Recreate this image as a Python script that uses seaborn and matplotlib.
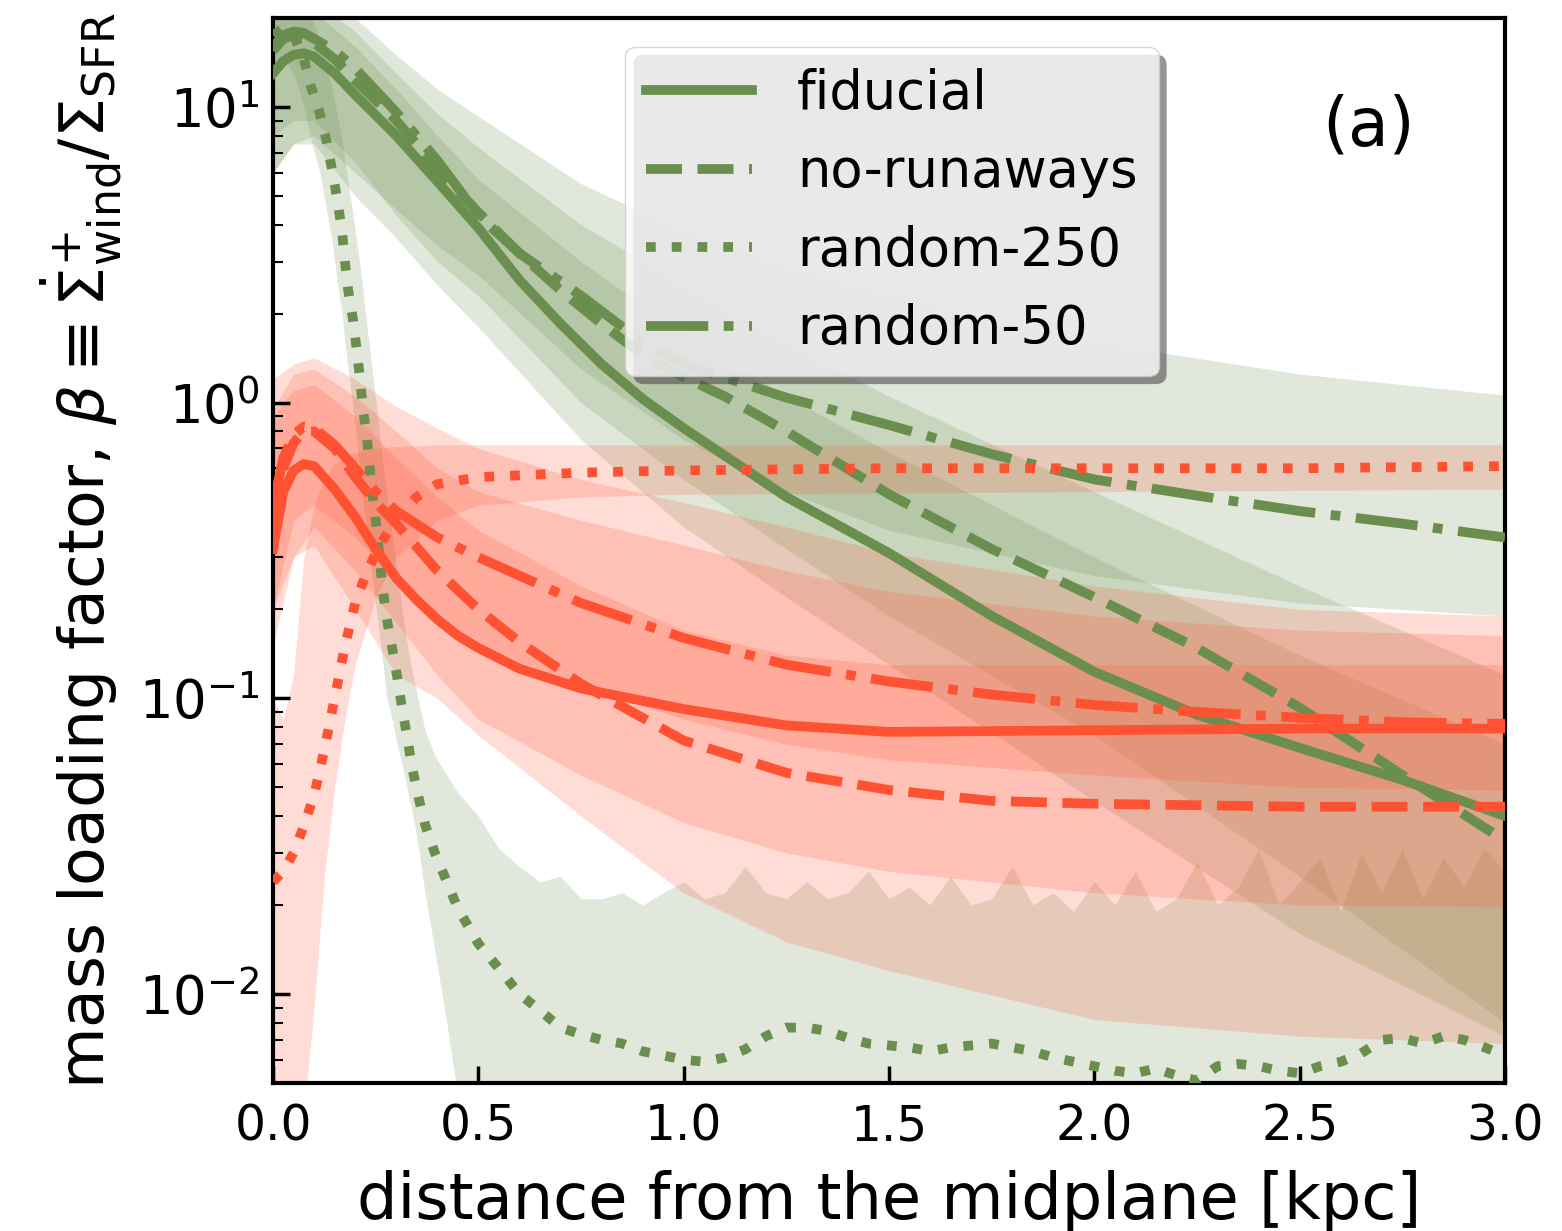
import numpy as np
import matplotlib
matplotlib.use("Agg")
import matplotlib.pyplot as plt
from matplotlib.patches import FancyBboxPatch
import seaborn as sns

GREEN = "#6a8e4e"
RED = "#ff5233"

# ---------------- green (upper group) lines ----------------
g_fid_x = [0, 0.025, 0.05, 0.075, 0.1, 0.15, 0.2, 0.3, 0.4, 0.5, 0.6, 0.7, 0.8, 0.9, 1.0,
           1.25, 1.5, 1.75, 2.0, 2.25, 2.5, 2.75, 3.0]
g_fid_y = [13.0, 14.3, 15.0, 15.2, 14.8, 13.0, 11.0, 8.0, 5.6, 3.9, 2.6, 1.85, 1.35, 1.03, 0.82,
           0.48, 0.31, 0.19, 0.123, 0.088, 0.068, 0.053, 0.040]

g_norun_x = [0, 0.025, 0.05, 0.075, 0.1, 0.15, 0.2, 0.3, 0.4, 0.5, 0.6, 0.7, 0.8, 0.9, 1.0, 1.1,
             1.25, 1.5, 1.75, 2.0, 2.25, 2.5, 2.75, 3.0]
g_norun_y = [15.5, 17.0, 17.5, 17.2, 16.5, 14.5, 12.3, 9.0, 6.2, 4.4, 3.2, 2.4, 1.85, 1.45, 1.22, 1.05,
             0.80, 0.49, 0.32, 0.22, 0.148, 0.093, 0.055, 0.033]

g_r50_x = [0, 0.025, 0.05, 0.075, 0.1, 0.15, 0.2, 0.3, 0.4, 0.5, 0.6, 0.75, 0.9, 1.0, 1.25, 1.5,
           1.75, 2.0, 2.25, 2.5, 2.75, 3.0]
g_r50_y = [16.0, 17.5, 18.0, 17.8, 17.0, 15.5, 13.5, 9.6, 6.6, 4.3, 3.2, 2.3, 1.6, 1.35, 1.04, 0.84,
           0.67, 0.55, 0.485, 0.43, 0.39, 0.35]

g_r250_x = [0, 0.025, 0.05, 0.075, 0.09, 0.114, 0.13, 0.144, 0.156, 0.168, 0.175, 0.183, 0.195,
            0.204, 0.212, 0.219, 0.229, 0.236, 0.244, 0.253, 0.26, 0.268, 0.277, 0.29, 0.302,
            0.314, 0.326, 0.338, 0.353, 0.37, 0.394, 0.423, 0.45,
            0.50, 0.55, 0.60, 0.65, 0.70, 0.75, 0.80, 0.85, 0.90, 0.95, 1.00, 1.05, 1.10, 1.15,
            1.20, 1.25, 1.30, 1.35, 1.40, 1.45, 1.50, 1.55, 1.60, 1.65, 1.70, 1.75, 1.80, 1.85,
            1.90, 1.95, 2.00, 2.05, 2.10, 2.15, 2.20, 2.25, 2.30, 2.35, 2.40, 2.45, 2.50, 2.55,
            2.60, 2.65, 2.70, 2.75, 2.80, 2.85, 2.90, 2.95, 3.00]
g_r250_y = [17.5, 18.5, 17.5, 14.5, 12.0, 9.5, 7.7, 6.1, 4.9, 3.8, 3.0, 2.4, 1.9,
            1.5, 1.2, 0.95, 0.75, 0.59, 0.47, 0.37, 0.29, 0.23, 0.186, 0.148, 0.119,
            0.093, 0.075, 0.059, 0.047, 0.0375, 0.030, 0.024, 0.0195,
            0.0148, 0.0122, 0.0100, 0.0088, 0.0077, 0.0073, 0.0070, 0.0068, 0.0064, 0.0062,
            0.0060, 0.0059, 0.0061, 0.0065, 0.0072, 0.0077, 0.0077, 0.0075, 0.0071, 0.0068,
            0.0067, 0.0066, 0.0064, 0.0066, 0.0067, 0.0068, 0.0066, 0.0064, 0.0061, 0.0059,
            0.0057, 0.0055, 0.0054, 0.0056, 0.0053, 0.0051, 0.0057, 0.0058, 0.0057, 0.0055,
            0.0054, 0.0057, 0.0059, 0.0063, 0.0070, 0.0071, 0.0068, 0.0072, 0.0070, 0.0066,
            0.0062]
g_r250_hi = [24, 25, 25, 22, 21, 17, 14, 11.5, 9.5, 7.7, 6.6, 5.5, 4.3,
             3.5, 2.9, 2.4, 1.8, 1.5, 1.2, 0.95, 0.78, 0.62, 0.5, 0.36, 0.27,
             0.2, 0.155, 0.125, 0.1, 0.078, 0.064, 0.055, 0.048,
             0.040, 0.031, 0.027, 0.024, 0.025, 0.021, 0.021, 0.022, 0.020, 0.022,
             0.024, 0.021, 0.022, 0.027, 0.022, 0.021, 0.024, 0.021, 0.022, 0.026,
             0.021, 0.023, 0.020, 0.025, 0.020, 0.021, 0.027, 0.020, 0.022, 0.019,
             0.024, 0.020, 0.026, 0.019, 0.021, 0.028, 0.020, 0.023, 0.031, 0.020,
             0.024, 0.029, 0.019, 0.030, 0.022, 0.031, 0.021, 0.029, 0.023, 0.031,
             0.026]
g_r250_lo = [14, 14.5, 13, 10, 8, 6, 4.5, 3.5, 2.6, 2.0, 1.6, 1.3, 0.95,
             0.75, 0.58, 0.46, 0.37, 0.3, 0.24, 0.19, 0.16, 0.13, 0.1, 0.085, 0.07,
             0.06, 0.05, 0.042, 0.032, 0.022, 0.014, 0.008, 0.0045] + [0.003] * 51

# ---------------- red (lower group) lines ----------------
r_fid_x = [0, 0.025, 0.05, 0.075, 0.1, 0.15, 0.2, 0.25, 0.3, 0.35, 0.4, 0.45, 0.5, 0.6, 0.75,
           1.0, 1.25, 1.5, 2.0, 2.5, 3.0]
r_fid_y = [0.32, 0.50, 0.59, 0.62, 0.61, 0.51, 0.41, 0.32, 0.255, 0.215, 0.185, 0.163, 0.148,
           0.126, 0.108, 0.092, 0.081, 0.077, 0.078, 0.079, 0.079]

r_norun_x = [0, 0.025, 0.05, 0.075, 0.1, 0.15, 0.2, 0.25, 0.3, 0.4, 0.5, 0.6, 0.75, 1.0, 1.25,
             1.5, 1.75, 2.0, 2.5, 3.0]
r_norun_y = [0.40, 0.60, 0.73, 0.80, 0.80, 0.70, 0.56, 0.46, 0.39, 0.27, 0.20, 0.155, 0.112,
             0.072, 0.056, 0.049, 0.045, 0.044, 0.043, 0.043]

r_r50_x = [0, 0.025, 0.05, 0.075, 0.1, 0.15, 0.2, 0.25, 0.3, 0.4, 0.5, 0.6, 0.75, 1.0, 1.25,
           1.5, 1.75, 2.0, 2.25, 2.5, 2.75, 3.0]
r_r50_y = [0.45, 0.65, 0.78, 0.83, 0.82, 0.72, 0.60, 0.50, 0.43, 0.35, 0.30, 0.26, 0.21, 0.16,
           0.13, 0.114, 0.103, 0.095, 0.090, 0.086, 0.083, 0.082]

r_r250_x = [0, 0.025, 0.05, 0.075, 0.1, 0.125, 0.15, 0.175, 0.2, 0.225, 0.25, 0.3, 0.35, 0.4,
            0.5, 0.75, 1.0, 1.5, 2.0, 2.5, 3.0]
r_r250_y = [0.024, 0.026, 0.030, 0.037, 0.047, 0.067, 0.10, 0.15, 0.21, 0.26, 0.31, 0.41, 0.48,
            0.53, 0.56, 0.58, 0.59, 0.60, 0.60, 0.60, 0.61]

# ---------------- shaded ranges ----------------
band_x = [0, 0.05, 0.1, 0.2, 0.3, 0.4, 0.5, 0.75, 1.0, 1.25, 1.5, 2.0, 2.5, 3.0]
g_fid_lo = [6.0, 7.5, 7.5, 5.0, 3.6, 2.5, 1.8, 0.75, 0.38, 0.22, 0.13, 0.045, 0.016, 0.0072]
g_fid_hi = [20, 22, 21, 16, 11.5, 8.0, 5.7, 3.0, 1.7, 1.05, 0.68, 0.30, 0.14, 0.07]
g_norun_lo = [8, 9, 9, 6.5, 4.3, 3.0, 2.3, 1.0, 0.55, 0.32, 0.19, 0.075, 0.025, 0.008]
g_norun_hi = [23, 24, 23, 18, 13, 9.5, 7.3, 4.0, 2.5, 1.6, 1.05, 0.5, 0.24, 0.12]
g_r50_lo = [6.0, 7.5, 8.0, 6.0, 4.5, 3.4, 2.7, 1.3, 0.75, 0.5, 0.37, 0.26, 0.21, 0.19]
g_r50_hi = [25, 26, 25, 20, 15, 11.5, 9.3, 5.5, 3.8, 2.9, 2.3, 1.6, 1.25, 1.06]

r_fid_lo = [0.2, 0.3, 0.33, 0.2, 0.12, 0.1, 0.075, 0.04, 0.022, 0.015, 0.012, 0.0082, 0.0072, 0.0068]
r_fid_hi = [0.95, 1.25, 1.3, 1.05, 0.8, 0.6, 0.5, 0.4, 0.33, 0.27, 0.23, 0.19, 0.17, 0.163]
r_norun_lo = [0.15, 0.3, 0.38, 0.27, 0.18, 0.12, 0.085, 0.055, 0.038, 0.03, 0.026, 0.022, 0.02, 0.0197]
r_norun_hi = [0.9, 1.1, 1.15, 0.9, 0.65, 0.48, 0.37, 0.24, 0.17, 0.14, 0.13, 0.13, 0.13, 0.13]
r_r50_lo = [0.2, 0.4, 0.45, 0.35, 0.25, 0.19, 0.15, 0.11, 0.085, 0.07, 0.062, 0.055, 0.05, 0.049]
r_r50_hi = [1.2, 1.35, 1.42, 1.2, 0.97, 0.82, 0.7, 0.55, 0.46, 0.38, 0.31, 0.24, 0.2, 0.19]

r_r250_bx = [0, 0.025, 0.05, 0.075, 0.1, 0.125, 0.15, 0.175, 0.2, 0.25, 0.3, 0.4, 0.5, 0.75, 1.0, 2.0, 3.0]
r_r250_lo = [0.003, 0.003, 0.003, 0.004, 0.009, 0.025, 0.05, 0.085, 0.13, 0.22, 0.3, 0.4, 0.45, 0.48, 0.49, 0.5, 0.51]
r_r250_hi = [0.1, 0.085, 0.12, 0.3, 0.45, 0.55, 0.62, 0.66, 0.68, 0.7, 0.71, 0.72, 0.72, 0.72, 0.72, 0.72, 0.72]

labels = ["fiducial", "no-runaways", "random-250", "random-50"]
xticks = [0.0, 0.5, 1.0, 1.5, 2.0, 2.5, 3.0]

# ---------------- figure ----------------
fig = plt.figure(figsize=(15.62, 12.31), dpi=100)
ax = fig.add_axes([0.1748, 0.1202, 0.7887, 0.8652])
ax.set_yscale("log")

bands = [
    (band_x, g_fid_lo, g_fid_hi, GREEN),
    (band_x, g_norun_lo, g_norun_hi, GREEN),
    (g_r250_x, g_r250_lo, g_r250_hi, GREEN),
    (band_x, g_r50_lo, g_r50_hi, GREEN),
    (band_x, r_fid_lo, r_fid_hi, RED),
    (band_x, r_norun_lo, r_norun_hi, RED),
    (r_r250_bx, r_r250_lo, r_r250_hi, RED),
    (band_x, r_r50_lo, r_r50_hi, RED),
]
for bx, lo, hi, c in bands:
    ax.fill_between(bx, lo, hi, color=c, alpha=0.2, linewidth=0, zorder=1)

LW = 7
green_series = [(g_fid_x, g_fid_y, "-"), (g_norun_x, g_norun_y, "--"),
                (g_r250_x, g_r250_y, ":"), (g_r50_x, g_r50_y, "-.")]
red_series = [(r_fid_x, r_fid_y, "-"), (r_norun_x, r_norun_y, "--"),
              (r_r250_x, r_r250_y, ":"), (r_r50_x, r_r50_y, "-.")]

handles = []
for (xs, ys, ls), lab in zip(green_series, labels):
    sns.lineplot(x=xs, y=ys, ax=ax, color=GREEN, lw=LW, linestyle=ls,
                 errorbar=None, legend=False, zorder=3)
    handles.append(ax.get_lines()[-1])
for xs, ys, ls in red_series:
    sns.lineplot(x=xs, y=ys, ax=ax, color=RED, lw=LW, linestyle=ls,
                 errorbar=None, legend=False, zorder=3)

ax.set_xlim(0, 3)
ax.set_ylim(5e-3, 20)
ax.set_xticks(xticks)

for sp in ax.spines.values():
    sp.set_linewidth(3)
    sp.set_color("black")

ax.tick_params(axis="both", which="major", direction="in", length=12, width=2.5,
               colors="black")
ax.tick_params(axis="x", which="major", labelsize=35, pad=14)
ax.tick_params(axis="y", which="major", labelsize=38, pad=10)
ax.tick_params(axis="y", which="minor", direction="in", length=7, width=1.5)
ax.tick_params(axis="x", which="minor", bottom=False)

ax.set_xlabel("distance from the midplane [kpc]", fontsize=46, labelpad=14)
ax.set_ylabel(r"mass loading factor, $\beta \equiv \dot{\Sigma}^{+}_{\rm wind}/\Sigma_{\rm SFR}$",
              fontsize=45.5, labelpad=10)

LEG_FS = 38
leg = ax.legend(handles, labels, loc="upper left", bbox_to_anchor=(0.286, 0.973),
                borderaxespad=0, fontsize=LEG_FS, shadow=False, fancybox=True, framealpha=0.8,
                labelspacing=0.5, handlelength=2.0, handletextpad=0.85, borderpad=0.4)
leg.set_zorder(10)
leg.get_frame().set_edgecolor("#cccccc")

ax.text(0.889, 0.898, "(a)", transform=ax.transAxes, ha="center", va="center", fontsize=48)

# manual drop shadow for the legend (offset a few pixels down-right)
fig.canvas.draw()
bb = leg.get_frame().get_window_extent(fig.canvas.get_renderer())
rs = 0.2 * LEG_FS * fig.dpi / 72.0
shadow = FancyBboxPatch((bb.x0 + 8, bb.y0 - 8), bb.width, bb.height,
                        boxstyle=f"round,pad=0,rounding_size={rs}",
                        transform=None, facecolor=(0.3, 0.3, 0.3), alpha=0.6,
                        edgecolor="none", zorder=9, clip_on=False)
ax.add_artist(shadow)

fig.savefig("out.png", dpi=100)
